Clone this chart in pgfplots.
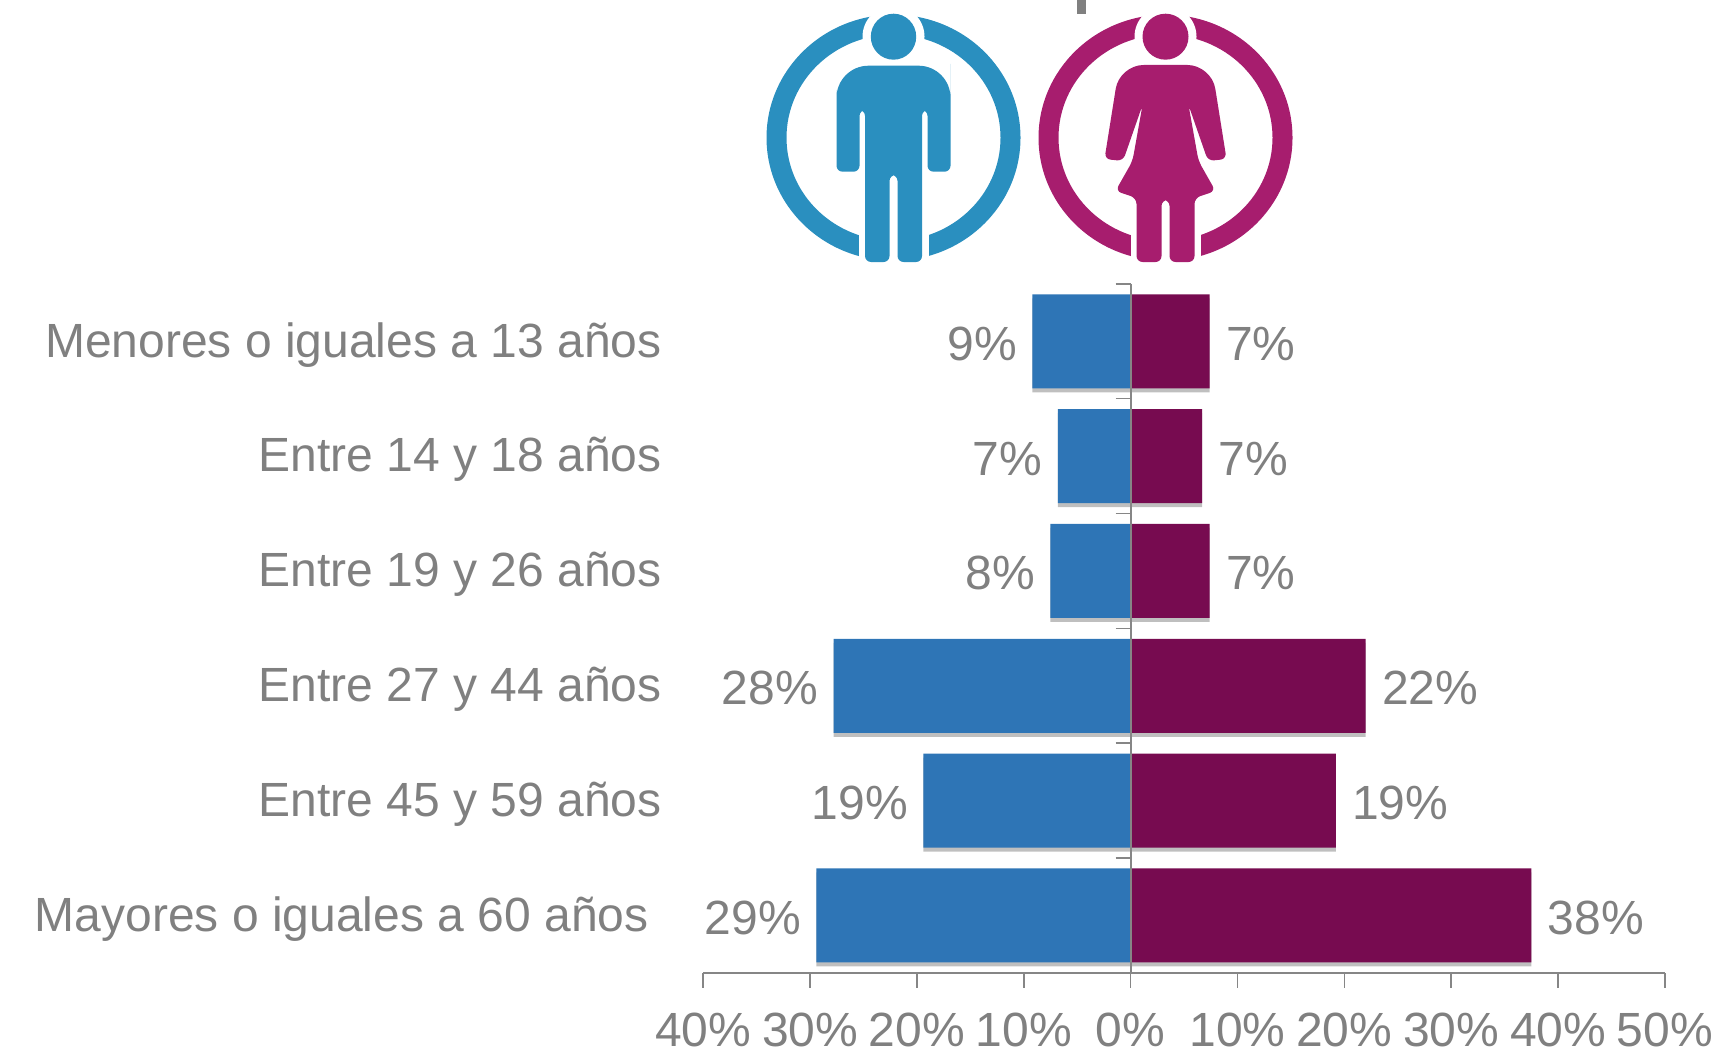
\documentclass[border=0pt]{standalone}
\usepackage{fontspec}
\setmainfont{Liberation Sans}
\usepackage{pgfplots}
\pgfplotsset{compat=1.18}
\usetikzlibrary{shadows}
\definecolor{txt}{HTML}{808080}
\definecolor{axisc}{HTML}{868686}
\definecolor{barb}{HTML}{2E75B6}
\definecolor{barp}{HTML}{770B50}
\definecolor{iconb}{HTML}{2A8FBF}
\definecolor{iconp}{HTML}{A71D6E}
\begin{document}
\begin{tikzpicture}[x=0.5pt,y=-0.5pt]
\path[use as bounding box] (0,0) rectangle (1717,1054);
% title fragment
\fill[txt] (1077,0) rectangle (1085.5,14);
% man icon
\begin{scope}[shift={(893.5,0)}]
\fill[iconb,even odd rule] (0,137.7) ellipse [x radius=127,y radius=123] (0,137.7) ellipse [x radius=107,y radius=103];
\fill[white] (0,36.7) circle [radius=31];
\fill[white] (-35,200) rectangle (35,270);
\fill[iconb] (0,36.7) ellipse [x radius=22.7,y radius=23];
\fill[iconb,rounded corners=3] (-28.5,262) -- (-28.5,110) -- (-34,110) -- (-34,171.7) -- (-57,171.7) -- (-57,96) [rounded corners=16] -- (-57,65.7) -- (57,65.7) -- (57,96) [rounded corners=3] -- (57,171.7) -- (34,171.7) -- (34,110) -- (28.5,110) -- (28.5,262) -- (4,262) -- (4,175) -- (-4,175) -- (-4,262) -- cycle;
\end{scope}
% woman icon
\begin{scope}[shift={(1165.5,0)}]
\fill[iconp,even odd rule] (0,137.7) ellipse [x radius=127,y radius=123] (0,137.7) ellipse [x radius=107,y radius=103];
\fill[white] (0,36.7) circle [radius=31];
\fill[white] (-35,200) rectangle (35,270);
\fill[iconp] (0,36.7) ellipse [x radius=23,y radius=23];
\fill[iconp,rounded corners=3] (-29,262) -- (-29,198) -- (-50,191) -- (-33,161) -- (-23,105) -- (-42.5,161) -- (-61,159) [rounded corners=12] -- (-46,65) -- (46,65) [rounded corners=3] -- (61,159) -- (42.5,161) -- (23,105) -- (33,161) -- (50,191) -- (29,198) -- (29,262) -- (4,262) -- (4,200) -- (-4,200) -- (-4,262) -- cycle;
\end{scope}
\begin{axis}[
  at={(658.1,847.2)}, anchor=south west,
  scale only axis, width=480.85pt, height=344.5pt,
  xmin=-40, xmax=50, ymin=-0.5, ymax=5.5, y dir=reverse,
  axis x line=bottom, axis y line=center,
  axis line style={draw=axisc,line width=1pt,-},
  xtick={-40,-30,-20,-10,0,10,20,30,40,50},
  xticklabels={40\%,30\%,20\%,10\%,0\%,10\%,20\%,30\%,40\%,50\%},
  ytick={0,1,2,3,4,5},
  yticklabels={Menores o iguales a 13 años,Entre 14 y 18 años,Entre 19 y 26 años,Entre 27 y 44 años,Entre 45 y 59 años,Mayores o iguales a 60 años\kern6.5pt\mbox{}},
  extra y ticks={-0.5,0.5,1.5,2.5,3.5,4.5,5.5},
  extra y tick labels={},
  extra y tick style={ytick style={draw=axisc,line width=0.75pt}},
  ytick style={draw=none},
  xtick style={draw=axisc,line width=0.75pt},
  tick align=outside, major tick length=7.5pt,
  tick label style={font=\fontsize{24}{26}\selectfont,text=txt},
  xticklabel style={yshift=-8.8pt},
  yticklabel style={xshift=-226.8pt,yshift=-1.7pt,inner sep=0pt,anchor=east},
  clip=false,
  point meta=explicit symbolic,
  every node near coord/.append style={font=\fontsize{24}{26}\selectfont,text=txt,inner sep=0pt,yshift=-1.2pt},
  axis on top=true,
]
\addplot[xbar,bar shift=0pt,bar width=47pt,fill=barb,draw=none,
  drop shadow={shadow xshift=0pt,shadow yshift=-2pt,opacity=0.5},
  nodes near coords,nodes near coords align={anchor=east,xshift=-7.6pt}]
  coordinates {(-9.2,0)[9\%] (-6.8,1)[7\%] (-7.5,2)[8\%] (-27.8,3)[28\%] (-19.4,4)[19\%] (-29.4,5)[29\%]};
\addplot[xbar,bar shift=0pt,bar width=47pt,fill=barp,draw=none,
  drop shadow={shadow xshift=0pt,shadow yshift=-2pt,opacity=0.5},
  nodes near coords,nodes near coords align={anchor=west,xshift=8pt}]
  coordinates {(7.4,0)[7\%] (6.7,1)[7\%] (7.4,2)[7\%] (22,3)[22\%] (19.2,4)[19\%] (37.5,5)[38\%]};
\end{axis}
\end{tikzpicture}
\end{document}
